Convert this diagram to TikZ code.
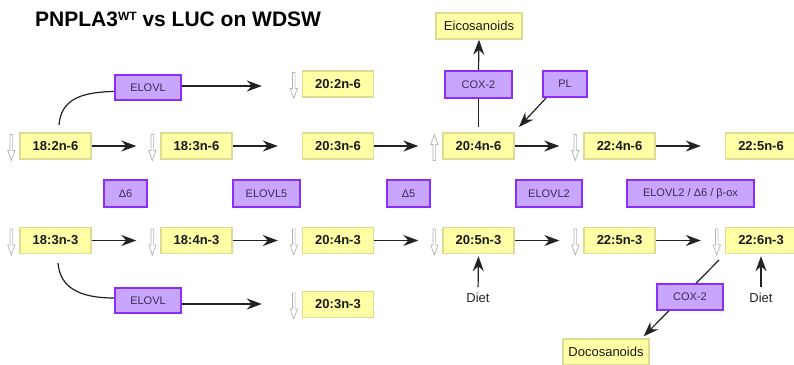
\documentclass[tikz,border=0pt]{standalone}
\usepackage{fontspec}
\setmainfont{Liberation Sans}
\usetikzlibrary{arrows.meta,backgrounds}

\definecolor{fafill}{HTML}{FFFFA6}
\definecolor{fadraw}{HTML}{DCDC94}
\definecolor{enzfill}{HTML}{C8A6FF}
\definecolor{enzdraw}{HTML}{8A2EFF}
\definecolor{enztext}{HTML}{3A2C4E}
\definecolor{linec}{HTML}{222222}
\definecolor{hollowc}{HTML}{B4B4B4}

\begin{document}
\begin{tikzpicture}[x=1pt,y=-1pt,
  fa/.style={draw=fadraw, fill=fafill, line width=1.4pt, minimum width=71pt,
    minimum height=26pt, inner sep=0pt, text=black!90,
    font=\fontsize{13}{15}\selectfont\bfseries},
  prod/.style={fa, minimum width=86pt, font=\fontsize{13}{15}\selectfont},
  enz/.style={draw=enzdraw, fill=enzfill, line width=1.6pt, minimum height=27pt,
    inner sep=0pt, text=enztext, font=\fontsize{11}{13}\selectfont},
  lbl/.style={inner sep=0pt, text=black!85, font=\fontsize{13}{15}\selectfont},
  conv/.style={draw=linec, line width=1.2pt,
    -{Stealth[length=15pt,width=11pt,inset=5pt]}},
  link/.style={draw=linec, line width=1.2pt},
  dnarrow/.pic={\draw[draw=hollowc, fill=white, line width=0.7pt, line join=miter]
    (-1.3,-13) -- (1.3,-13) -- (1.3,3) -- (3.6,3) -- (0,13) -- (-3.6,3) -- (-1.3,3) -- cycle;},
  uparrow/.pic={\draw[draw=hollowc, fill=white, line width=0.7pt, line join=miter]
    (-1.3,13) -- (1.3,13) -- (1.3,-3) -- (3.6,-3) -- (0,-13) -- (-3.6,-3) -- (-1.3,-3) -- cycle;}
]
\useasboundingbox (0,0) rectangle (794,364);

% title
\node[anchor=base west, inner sep=0pt, font=\fontsize{21}{25}\selectfont\bfseries]
  (title) at (35,27) {PNPLA3\raisebox{6pt}{\fontsize{12}{14}\selectfont WT} vs LUC on WDSW};

% n-6 series
\node[fa] (a1) at (55.5,146)  {18:2n-6};
\node[fa] (a2) at (196.5,146) {18:3n-6};
\node[fa] (a3) at (338,146)   {20:3n-6};
\node[fa] (a4) at (478.5,146) {20:4n-6};
\node[fa] (a5) at (619.5,146) {22:4n-6};
\node[fa] (a6) at (761,146)   {22:5n-6};

% n-3 series
\node[fa] (b1) at (55.5,240.5)  {18:3n-3};
\node[fa] (b2) at (196.5,240.5) {18:4n-3};
\node[fa] (b3) at (338,240.5)   {20:4n-3};
\node[fa] (b4) at (478.5,240.5) {20:5n-3};
\node[fa] (b5) at (619.5,240.5) {22:5n-3};
\node[fa] (b6) at (761,240.5)   {22:6n-3};

% enzymes between the two series
\node[enz, minimum width=43pt]  (e1) at (125.5,193.5) {Δ6};
\node[enz, minimum width=67pt]  (e2) at (266.5,193.5) {ELOVL5};
\node[enz, minimum width=43pt]  (e3) at (408.5,193.5) {Δ5};
\node[enz, minimum width=66pt]  (e4) at (549,193.5)   {ELOVL2};
\node[enz, minimum width=127pt] (e5) at (690.5,193.5) {ELOVL2 / Δ6 / β-ox};

% side branches
\node[enz, minimum width=66pt, minimum height=25pt] (el1) at (148,87.5)  {ELOVL};
\node[fa] (t2) at (338,84) {20:2n-6};
\node[enz, minimum width=66pt, minimum height=25pt] (el2) at (148,300.5) {ELOVL};
\node[fa] (s2) at (338,304.5) {20:3n-3};

% eicosanoid branch
\node[enz, minimum width=67pt] (coxa) at (478.5,84.5) {COX-2};
\node[prod] (eico) at (479,26) {Eicosanoids};
\node[enz, minimum width=44pt, minimum height=26pt] (pl) at (565,84) {PL};

% docosanoid branch and diet
\node[enz, minimum width=66pt, minimum height=26pt] (coxb) at (690,297) {COX-2};
\node[prod] (doco) at (606,352) {Docosanoids};
\node[lbl] (diet1) at (478,298) {Diet};
\node[lbl] (diet2) at (761,298) {Diet};

% change markers
\foreach \n in {a1,a2,a5,b1,b2,b3,b4,b5,b6,t2,s2}
  \pic at ([xshift=-8pt,yshift=-1.5pt]\n.west) {dnarrow};
\pic at ([xshift=-8pt,yshift=-1.5pt]a4.west) {uparrow};

% conversion steps
\foreach \p/\q in {a1/a2,a2/a3,a3/a4,a4/a5,a5/a6,b1/b2,b2/b3,b3/b4,b4/b5,b5/b6}
  \draw[conv, shorten >=24pt] (\p.east) -- (\q.west);

% elongation side branches
\coordinate (c1) at (59,125);
\draw[link] (c1) .. controls (61,100) and (80,92) .. ([yshift=-4pt]el1.west);
\draw[conv, shorten >=40pt] ([yshift=1.5pt]el1.east) -- ([yshift=1.5pt]el1.east -| t2.west);
\coordinate (c2) at (58,263);
\draw[link] (c2) .. controls (60,288) and (80,298) .. ([yshift=2.5pt]el2.west);
\draw[conv, shorten >=40pt] ([yshift=-3.5pt]el2.east) -- ([yshift=-3.5pt]el2.east -| s2.west);

% eicosanoids
\draw[link] ([yshift=5pt]a4.north) -- (coxa.south);
\draw[conv] (coxa.north) -- (eico.south);
\coordinate (plt) at (519,127);
\draw[conv] ([xshift=4pt]pl.south west) -- (plt);

% diet inputs
\draw[conv, shorten <=6pt, shorten >=2pt] (diet1.north) -- (b4.south);
\draw[conv, shorten <=6pt, shorten >=2pt] (diet2.north) -- (b6.south);

\begin{scope}[on background layer]
  \fill[white] (0,0) rectangle (794,364);
  \coordinate (c3) at (719,260);
  \draw[conv] (c3) -- ([xshift=-6pt,yshift=2pt]doco.north east);
\end{scope}
\end{tikzpicture}
\end{document}
